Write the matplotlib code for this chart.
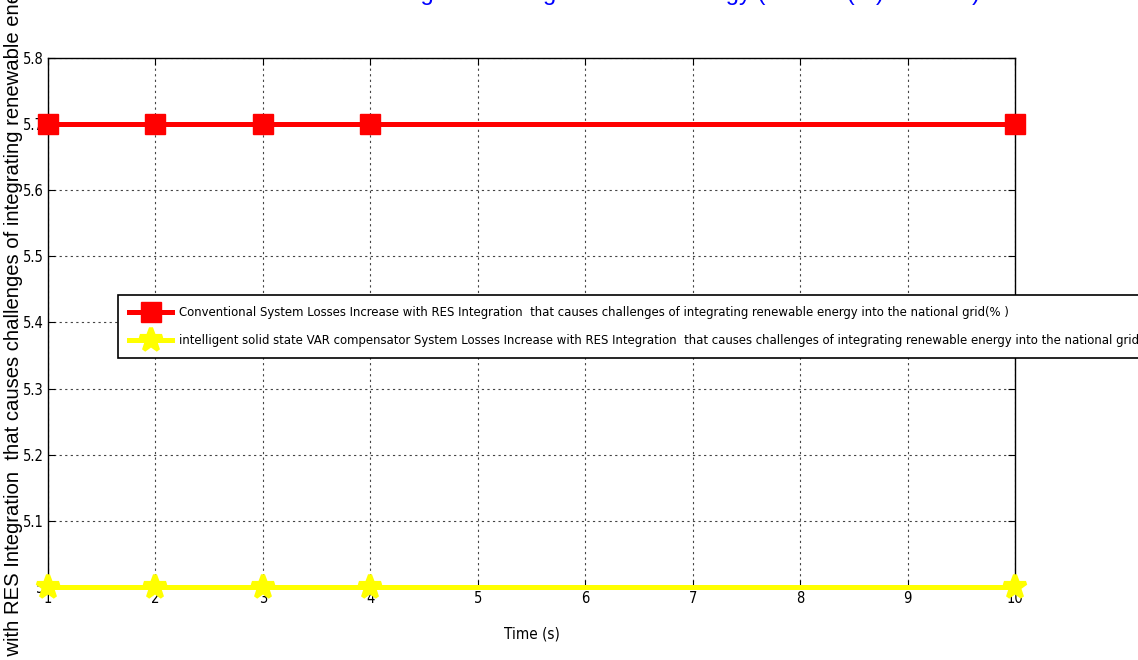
import matplotlib
matplotlib.use("Agg")
from matplotlib import pyplot as plt
from matplotlib import font_manager
from matplotlib.ticker import FormatStrFormatter

# data
time_s = [1, 2, 3, 4, 10]
conventional = [5.7, 5.7, 5.7, 5.7, 5.7]
intelligent = [5.0, 5.0, 5.0, 5.0, 5.0]

x_ticks = list(range(1, 11))
y_ticks = [5.0, 5.1, 5.2, 5.3, 5.4, 5.5, 5.6, 5.7, 5.8]

label_conv = ("Conventional System Losses Increase with RES Integration  that causes "
              "challenges of integrating renewable energy into the national grid(% )")
label_int = ("intelligent solid state VAR compensator System Losses Increase with RES "
             "Integration  that causes challenges of integrating renewable energy into the national grid(% )")
y_label = label_conv
title = "Losses with RES Integration using renewable energy (Losses (%) vs Time)"

# look for a narrow font (the picture uses an Arial Narrow look)
narrow_file = None
for f in font_manager.fontManager.ttflist:
    nm = f.name.lower()
    if ("narrow" in nm or "condensed" in nm or "condensed" in str(f.stretch)) and f.weight in (400, "normal", "regular"):
        if "bold" not in f.fname.lower() and "italic" not in f.fname.lower() and "oblique" not in f.fname.lower():
            narrow_file = f.fname
            break

if narrow_file:
    narrow = font_manager.FontProperties(fname=narrow_file)
    nscale = 1.0
else:
    narrow = font_manager.FontProperties(family=["Liberation Sans", "DejaVu Sans"])
    nscale = 0.85

W, H = 1138, 660
fig = plt.figure(figsize=(W / 100, H / 100), dpi=100)
ax = fig.add_axes([48 / W, 1 - 587 / H, (1015 - 48) / W, (587 - 58) / H])

ax.plot(time_s, conventional, color="red", lw=3.6, marker="s", ms=14,
        mec="red", mfc="red", clip_on=False, zorder=5, label=label_conv)
ax.plot(time_s, intelligent, color="yellow", lw=3.6, marker="*", ms=17,
        mec="yellow", mew=3, mfc="yellow", clip_on=False, zorder=5, label=label_int)

ax.set_xlim(1, 10)
ax.set_ylim(5.0, 5.8)
ax.set_xticks(x_ticks)
ax.set_yticks(y_ticks)
ax.yaxis.set_major_formatter(FormatStrFormatter("%g"))
ax.grid(True, color="#444444", linestyle=(0, (2, 3)), lw=0.8)
ax.tick_params(direction="in", top=True, right=True, length=5, width=0.8, pad=3)
for lab in ax.get_xticklabels() + ax.get_yticklabels():
    lab.set_fontproperties(narrow)
    lab.set_fontsize(10.5 * nscale)
for sp in ax.spines.values():
    sp.set_linewidth(1.0)
    sp.set_color("black")

xl = ax.set_xlabel("Time (s)")
xl.set_fontproperties(narrow)
xl.set_fontsize(11 * nscale)
ax.xaxis.set_label_coords(0.5, -0.075)
ax.set_ylabel(y_label, family=["Liberation Sans", "DejaVu Sans"], fontsize=14.6)
ax.yaxis.set_label_coords(-0.026, 0.5 - 50 / 529)

lp = narrow.copy()
lp.set_size(9.4 * nscale)
leg = ax.legend(loc="upper left", bbox_to_anchor=(118 / W, 1 - 295 / H),
                bbox_transform=fig.transFigure, prop=lp,
                fancybox=False, framealpha=1, edgecolor="black", handlelength=3.3,
                borderaxespad=0, labelspacing=1.15, borderpad=0.85, handletextpad=0.5)
leg.get_frame().set_linewidth(1.2)
leg.set_zorder(10)

# title sits mostly above the figure, only its lower part shows
fig.text(980 / W, 1.0, title, color="blue", fontsize=17, ha="right",
         va="baseline", family=["Liberation Sans", "DejaVu Sans"])

fig.savefig("out.png", dpi=100)
plt.close()
